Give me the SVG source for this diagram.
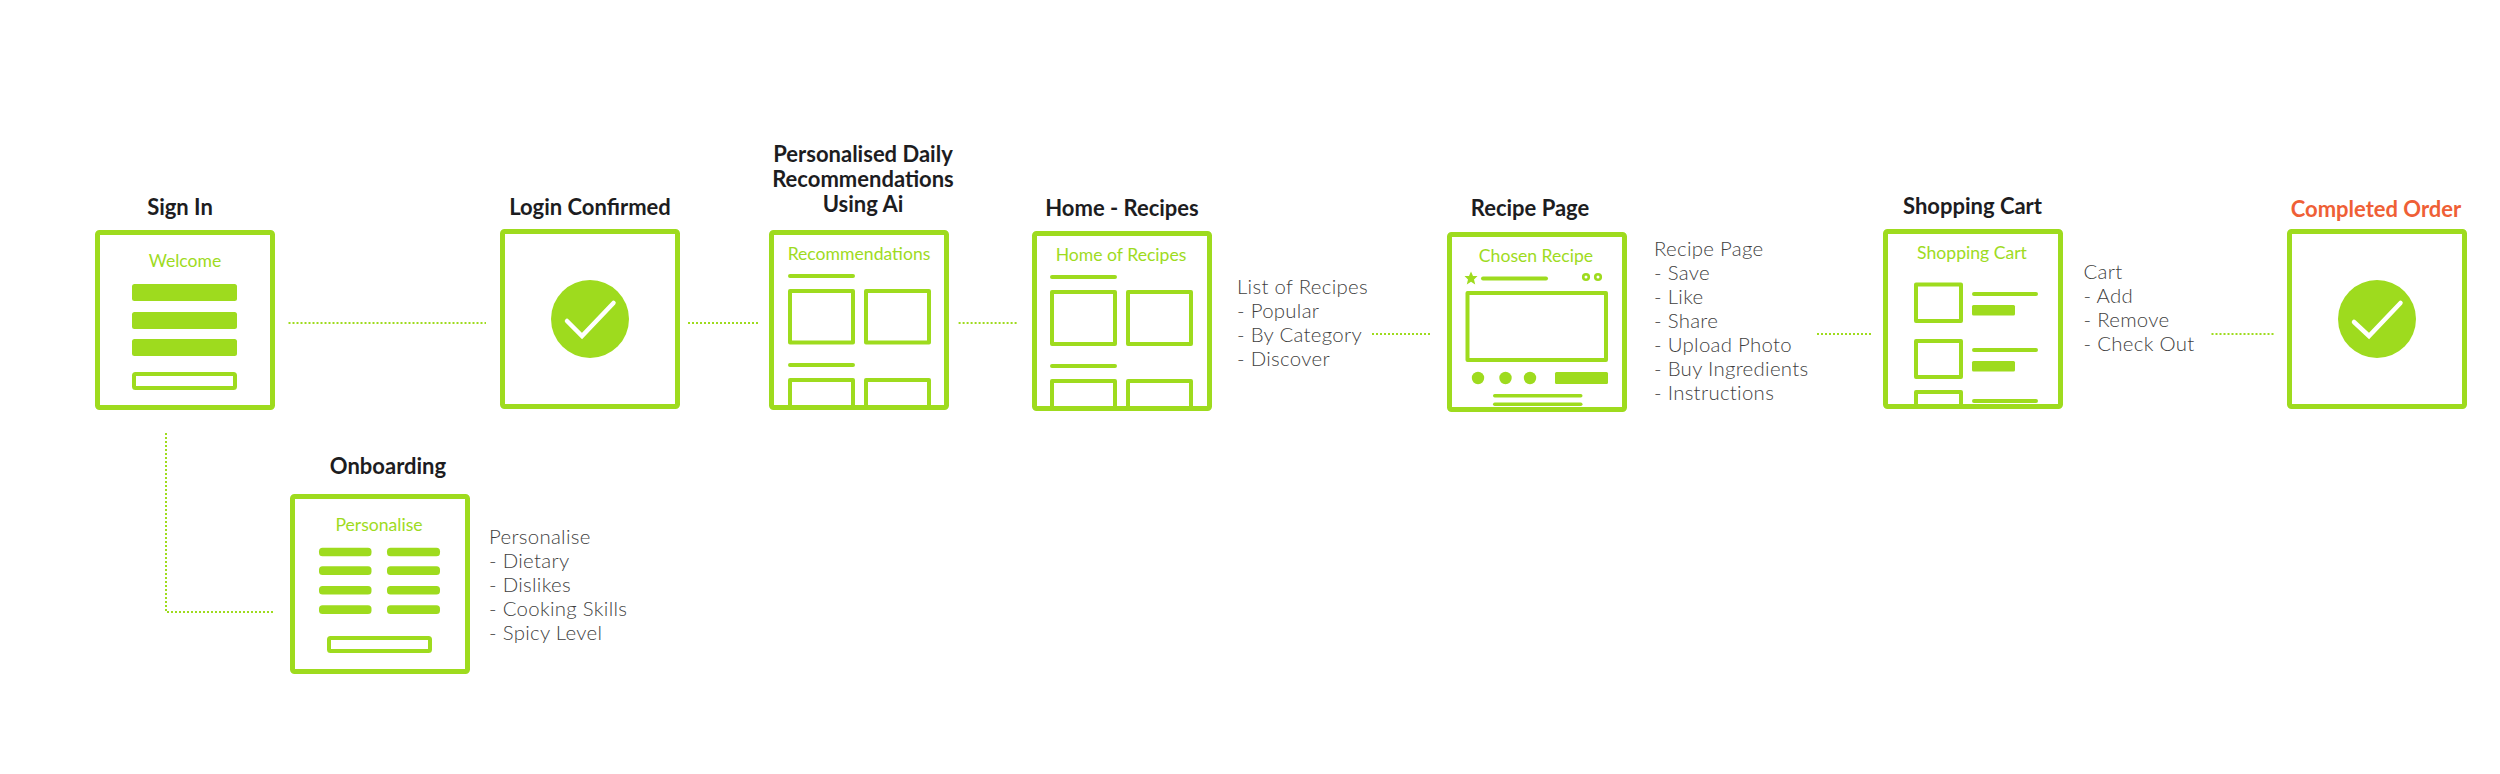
<svg xmlns="http://www.w3.org/2000/svg" width="2500" height="774" viewBox="0 0 2500 774">
<style>
.frame{fill:#fff;stroke:#9edb1e;stroke-width:5;stroke-linejoin:round}
.o{fill:none;stroke:#9edb1e;stroke-width:4;stroke-linejoin:round}
.f{fill:#9edb1e}
.l{fill:none;stroke:#9edb1e;stroke-width:4;stroke-linecap:round}
.dot{fill:none;stroke:#9edb1e;stroke-width:2;stroke-dasharray:2 2}
.chk{fill:none;stroke:#fff;stroke-width:4.500;stroke-linecap:round;stroke-linejoin:miter}
.t{font-family:"Lato","Liberation Sans",sans-serif;font-weight:700;font-size:22px;fill:#1d1d1f;text-anchor:middle}
.s{font-family:"Lato","Liberation Sans",sans-serif;font-size:17.600px;fill:#9edb1e;text-anchor:middle}
.d{font-family:"Lato","Liberation Sans",sans-serif;font-weight:300;font-size:20.400px;fill:#3f3f3f;letter-spacing:.3px}
</style>
<rect width="2500" height="774" fill="#fff"/>
<g id="connectors">
<path class="dot" d="M288.500 323H486"/>
<path class="dot" d="M688 323H760"/>
<path class="dot" d="M958.600 323H1018"/>
<path class="dot" d="M1372 334H1431"/>
<path class="dot" d="M1817 334H1871"/>
<path class="dot" d="M2211.500 334H2275"/>
<path class="dot" d="M166 433V612H274"/>
</g>
<g id="sign-in">
<text class="t" x="180" y="215">Sign In</text>
<rect class="frame" x="97.500" y="232.500" width="175" height="175" rx="2"/>
<text class="s" x="185" y="267">Welcome</text>
<rect class="f" x="132" y="284" width="105" height="17" rx="2.500"/>
<rect class="f" x="132" y="312" width="105" height="17" rx="2.500"/>
<rect class="f" x="132" y="339" width="105" height="17" rx="2.500"/>
<rect class="o" x="134" y="374" width="101" height="14" rx="1.500"/>
</g>
<g id="login-confirmed">
<text class="t" x="590" y="215">Login Confirmed</text>
<rect class="frame" x="502.500" y="231.500" width="175" height="175" rx="2"/>
<circle class="f" cx="590" cy="319" r="39"/>
<path class="chk" d="M567 321L582 336L613.500 303"/>
</g>
<g id="recommendations">
<text class="t" x="863" y="162">Personalised Daily</text>
<text class="t" x="863" y="187">Recommendations</text>
<text class="t" x="863" y="212">Using Ai</text>
<rect class="frame" x="771.500" y="232.500" width="175" height="175" rx="2"/>
<text class="s" x="859" y="260">Recommendations</text>
<path class="l" d="M790 276H853M790 365H853"/>
<rect class="o" x="790" y="291" width="63" height="51.500"/>
<rect class="o" x="866" y="291" width="63" height="51.500"/>
<path class="o" d="M790 408V380H853V408M866 408V380H929V408"/>
</g>
<g id="home-recipes">
<text class="t" x="1122" y="216">Home - Recipes</text>
<rect class="frame" x="1034.500" y="233.500" width="175" height="175" rx="2"/>
<text class="s" x="1121" y="261">Home of Recipes</text>
<path class="l" d="M1052 277H1115M1052 366H1115"/>
<rect class="o" x="1052" y="292" width="63" height="52"/>
<rect class="o" x="1128" y="292" width="63" height="52"/>
<path class="o" d="M1052 409V381H1115V409M1128 409V381H1191V409"/>
<text class="d" x="1237" y="293.500">List of Recipes</text>
<text class="d" x="1237" y="317.500">- Popular</text>
<text class="d" x="1237" y="341.500">- By Category</text>
<text class="d" x="1237" y="365.500">- Discover</text>
</g>
<g id="recipe-page">
<text class="t" x="1530" y="216">Recipe Page</text>
<rect class="frame" x="1449.500" y="234.500" width="175" height="175" rx="2"/>
<text class="s" x="1536" y="262">Chosen Recipe</text>
<path class="f" d="M1471 271.500L1473 276H1477.500L1474 279.500L1475.200 284.500L1471 281.800L1466.800 284.500L1468 279.500L1464.500 276H1469Z"/>
<path class="l" d="M1483 278.500H1546"/>
<circle cx="1586" cy="277" r="2.800" fill="none" stroke="#9edb1e" stroke-width="2.600"/>
<circle cx="1598" cy="277" r="2.800" fill="none" stroke="#9edb1e" stroke-width="2.600"/>
<rect class="o" x="1467.500" y="293" width="138.500" height="67"/>
<circle class="f" cx="1478" cy="378" r="6.200"/>
<circle class="f" cx="1505.500" cy="378" r="6.200"/>
<circle class="f" cx="1530" cy="378" r="6.200"/>
<rect class="f" x="1555" y="372" width="53" height="12" rx="1.500"/>
<rect class="f" x="1493" y="394" width="89.500" height="3.400" rx="1.700"/>
<rect class="f" x="1493" y="402.600" width="89.500" height="3.400" rx="1.700"/>
<text class="d" x="1654" y="255.500">Recipe Page</text>
<text class="d" x="1654" y="279.500">- Save</text>
<text class="d" x="1654" y="303.500">- Like</text>
<text class="d" x="1654" y="327.500">- Share</text>
<text class="d" x="1654" y="351.500">- Upload Photo</text>
<text class="d" x="1654" y="375.500">- Buy Ingredients</text>
<text class="d" x="1654" y="399.500">- Instructions</text>
</g>
<g id="shopping-cart">
<text class="t" x="1972.500" y="214">Shopping Cart</text>
<rect class="frame" x="1885.500" y="231.500" width="175" height="175" rx="2"/>
<text class="s" x="1972" y="259">Shopping Cart</text>
<rect class="o" x="1916" y="284.500" width="45" height="36.500"/>
<rect class="o" x="1916" y="341" width="45" height="36"/>
<path class="o" d="M1916 407V392H1961V407"/>
<path class="l" d="M1974 294H2036M1974 350H2036M1974 401H2036"/>
<rect class="f" x="1972" y="305" width="43" height="10.500" rx="1.500"/>
<rect class="f" x="1972" y="361" width="43" height="10.500" rx="1.500"/>
<text class="d" x="2083.500" y="278.500">Cart</text>
<text class="d" x="2083.500" y="302.500">- Add</text>
<text class="d" x="2083.500" y="326.500">- Remove</text>
<text class="d" x="2083.500" y="350.500">- Check Out</text>
</g>
<g id="completed-order">
<text class="t" x="2376" y="217" style="fill:#ef5f36">Completed Order</text>
<rect class="frame" x="2289.500" y="231.500" width="175" height="175" rx="2"/>
<circle class="f" cx="2377" cy="319" r="39"/>
<path class="chk" d="M2354 322L2369 336L2400.500 303"/>
</g>
<g id="onboarding">
<text class="t" x="388" y="474">Onboarding</text>
<rect class="frame" x="292.500" y="496.500" width="175" height="175" rx="2"/>
<text class="s" x="379" y="531">Personalise</text>
<rect class="f" x="319" y="547.700" width="52.500" height="8.600" rx="3.500"/>
<rect class="f" x="387" y="547.700" width="53" height="8.600" rx="3.500"/>
<rect class="f" x="319" y="566.300" width="52.500" height="8.600" rx="3.500"/>
<rect class="f" x="387" y="566.300" width="53" height="8.600" rx="3.500"/>
<rect class="f" x="319" y="586" width="52.500" height="8.600" rx="3.500"/>
<rect class="f" x="387" y="586" width="53" height="8.600" rx="3.500"/>
<rect class="f" x="319" y="605.300" width="52.500" height="8.600" rx="3.500"/>
<rect class="f" x="387" y="605.300" width="53" height="8.600" rx="3.500"/>
<rect class="o" x="329" y="638" width="101" height="13" rx="1.500"/>
<text class="d" x="489" y="543.500">Personalise</text>
<text class="d" x="489" y="568">- Dietary</text>
<text class="d" x="489" y="592">- Dislikes</text>
<text class="d" x="489" y="616">- Cooking Skills</text>
<text class="d" x="489" y="640">- Spicy Level</text>
</g>
</svg>
